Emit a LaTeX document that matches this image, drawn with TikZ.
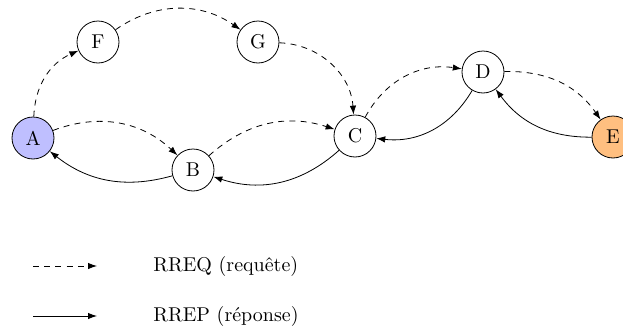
\documentclass[tikz,border=0pt]{standalone}
\usetikzlibrary{arrows.meta}
\begin{document}
\begin{tikzpicture}[x=0.5pt,y=-0.5pt,
  nd/.style={circle,draw,minimum size=21pt,inner sep=0pt},
  req/.style={dash pattern=on 3pt off 2.6pt,-{Latex[length=4.5pt,width=3.2pt]}},
  rep/.style={-{Latex[length=4.5pt,width=3.2pt]}}]
\useasboundingbox (0,0) rectangle (623,327);
\node[nd,fill=blue!25] (A) at (33,138) {A};
\node[nd] (F) at (98,42) {F};
\node[nd] (G) at (258,42) {G};
\node[nd] (B) at (193,170) {B};
\node[nd] (C) at (355,136) {C};
\node[nd] (D) at (483,72) {D};
\node[nd,fill=orange!50] (E) at (613,137) {E};
\draw[req] (A) to[bend left=32] (F);
\draw[req] (F) to[bend left=35] (G);
\draw[req] (G) to[bend left=42] (C);
\draw[req] (A) to[bend left=32] (B);
\draw[req] (B) to[bend left=30] (C);
\draw[req] (C) to[bend left=35] (D);
\draw[req] (D) to[bend left=28] (E);
\draw[rep] (B) to[bend left=27] (A);
\draw[rep] (C) to[bend left=30] (B);
\draw[rep] (D) to[bend left=33] (C);
\draw[rep] (E) to[bend left=27] (D);
\coordinate (l1a) at (33,266);
\coordinate (l1b) at (97,266);
\coordinate (l2a) at (33,316);
\coordinate (l2b) at (97,316);
\draw[req] (l1a) -- (l1b);
\draw[rep] (l2a) -- (l2b);
\node[anchor=west,inner sep=0pt] (t1) at (153,266) {RREQ (requête)};
\node[anchor=west,inner sep=0pt] (t2) at (153,316) {RREP (réponse)};
\end{tikzpicture}
\end{document}
